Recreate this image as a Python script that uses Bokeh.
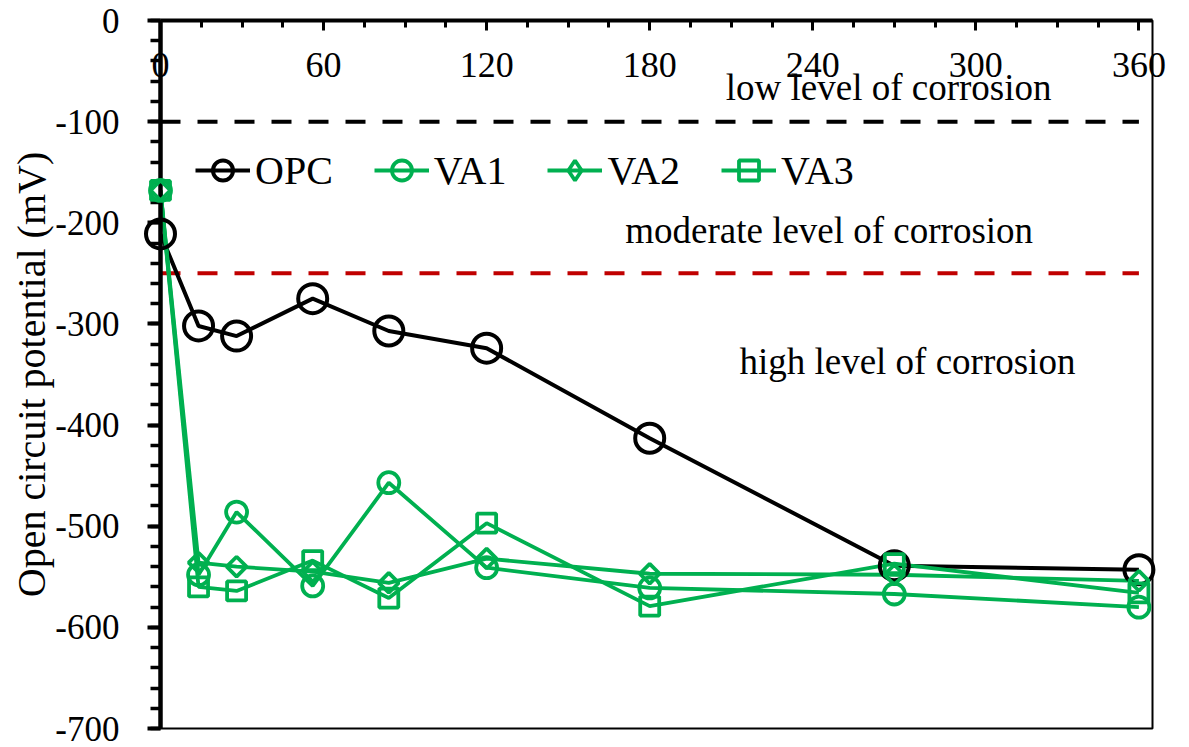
import numpy as np
from bokeh.plotting import figure
from bokeh.models import (SingleIntervalTicker, Range1d, Legend,
                          LegendItem, Label, PrintfTickFormatter)
from bokeh.embed import file_html
from bokeh.resources import INLINE

# ---- data ----
days = [0, 14, 28, 56, 84, 120, 180, 270, 360]
opc = [-211, -302, -312, -275, -307, -324, -413, -539, -543]
va1 = [-168, -548, -486, -559, -457, -541, -561, -567, -580]
va2 = [-168, -536, -540, -545, -556, -532, -547, -548, -554]
va3 = [-168, -560, -564, -534, -571, -497, -579, -537, -566]
series_names = ["OPC", "VA1", "VA2", "VA3"]
limit_levels = [-100, -250]
zone_labels = ["low level of corrosion", "moderate level of corrosion",
               "high level of corrosion"]
y_title = "Open circuit potential (mV)"

# ---- layout / style ----
zone_x = [208, 171, 213]
zone_y = [-66, -208, -337]
FONT = "Liberation Serif"
GREEN = "#00B050"
BLACK = "#000000"
RED = "#C00000"

p = figure(width=1185, height=747, output_backend="svg", toolbar_location=None,
           x_range=Range1d(0, 365), y_range=Range1d(-700, 0),
           x_axis_location="above",
           min_border_left=160, min_border_right=33,
           min_border_top=20, min_border_bottom=19)
p.xgrid.visible = False
p.ygrid.visible = False
p.outline_line_color = "black"
p.outline_line_width = 2
p.background_fill_color = "white"
p.border_fill_color = "white"

# x axis on top (y = 0); ticks point into the plot, labels beneath the line
xax = p.xaxis[0]
xax.ticker = SingleIntervalTicker(interval=60, num_minor_ticks=4)
xax.formatter = PrintfTickFormatter(format="%d")
xax.axis_line_width = 4
xax.axis_line_color = "black"
xax.major_tick_in = 10
xax.major_tick_out = 0
xax.minor_tick_in = 7
xax.minor_tick_out = 0
xax.major_tick_line_width = 3
xax.minor_tick_line_width = 3
xax.major_label_text_font = FONT
xax.major_label_text_font_size = "36px"
xax.major_label_text_color = "black"
xax.major_label_standoff = -56

yax = p.yaxis[0]
yax.ticker = SingleIntervalTicker(interval=100, num_minor_ticks=5)
yax.formatter = PrintfTickFormatter(format="%d")
yax.axis_line_width = 4.5
yax.axis_line_color = "black"
yax.major_tick_in = 0
yax.major_tick_out = 13
yax.minor_tick_in = 0
yax.minor_tick_out = 10
yax.major_tick_line_width = 4
yax.minor_tick_line_width = 3.5
yax.major_label_text_font = FONT
yax.major_label_text_font_size = "35px"
yax.major_label_text_color = "black"
yax.major_label_standoff = 28
yax.axis_label = y_title
yax.axis_label_text_font = FONT
yax.axis_label_text_font_size = "40px"
yax.axis_label_text_font_style = "normal"
yax.axis_label_text_color = "black"
yax.axis_label_standoff = -2

# corrosion limits
p.line([days[0], days[-1]], [limit_levels[0]] * 2, line_color=BLACK,
       line_width=4, line_dash="20 17")
p.line([days[0], days[-1]], [limit_levels[1]] * 2, line_color=RED,
       line_width=4, line_dash="20 17")

# series
l0 = p.line(days, opc, line_color=BLACK, line_width=4)
l1 = p.line(days, va1, line_color=GREEN, line_width=3.8)
l2 = p.line(days, va2, line_color=GREEN, line_width=3.8)
l3 = p.line(days, va3, line_color=GREEN, line_width=3.8)

s0 = p.scatter(days, opc, marker="circle", size=29, fill_color=None,
               line_color=BLACK, line_width=4, level="overlay")
s1 = p.scatter(days, va1, marker="circle", size=21, fill_color=None,
               line_color=GREEN, line_width=3.8, level="overlay")
s2 = p.scatter(days, va2, marker="square", angle=np.pi / 4, size=14,
               fill_color=None, line_color=GREEN, line_width=3.8,
               level="overlay")
s3 = p.scatter(days, va3, marker="square", size=19, fill_color=None,
               line_color=GREEN, line_width=3.8, level="overlay")
# legend proxy for the diamond symbol (hidden in the plot)
s2_leg = p.scatter(days, va2, marker="diamond", size=20, fill_color=None,
                   line_color=GREEN, line_width=3.8, visible=False)

items = [LegendItem(label=series_names[0], renderers=[l0, s0]),
         LegendItem(label=series_names[1], renderers=[l1, s1]),
         LegendItem(label=series_names[2], renderers=[l2, s2_leg]),
         LegendItem(label=series_names[3], renderers=[l3, s3])]
legend = Legend(items=items, orientation="horizontal", location=(35, 533),
                glyph_width=55, glyph_height=50, label_height=50,
                label_standoff=5, spacing=41, padding=0, margin=0,
                border_line_color=None, background_fill_alpha=0,
                label_text_font=FONT, label_text_font_size="40px",
                label_text_color="black")
p.add_layout(legend, "center")

for txt, xx, yy in zip(zone_labels, zone_x, zone_y):
    p.add_layout(Label(x=xx, y=yy, text=txt, text_font=FONT,
                       text_font_size="37px", text_color="black",
                       text_align="left", text_baseline="alphabetic"))

open("out.html", "w").write(file_html(p, INLINE))
